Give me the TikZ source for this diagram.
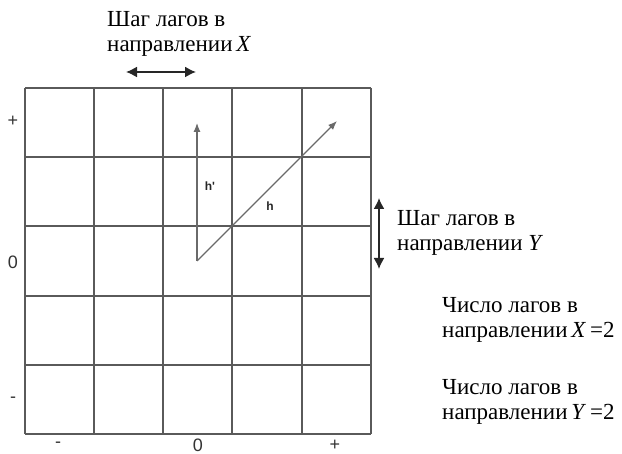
\documentclass[tikz,border=0pt]{standalone}
\usepackage{fontspec}
\setmainfont{Liberation Serif}
\newfontfamily\axisfont{Liberation Sans}
\usepackage{tikz}
\usetikzlibrary{arrows.meta,positioning}
\definecolor{gridgray}{HTML}{5A5A5A}
\definecolor{vecgray}{HTML}{6A6A6A}

\begin{document}
\begin{tikzpicture}[
  x=1pt, y=-1pt,
  gridline/.style={draw=gridgray, line width=1.4pt},
  vec/.style={-{Latex[length=9pt,width=7pt]}, draw=vecgray, line width=1.2pt},
  steparrow/.style={{Latex[length=11pt,width=11pt]}-{Latex[length=11pt,width=11pt]}, line width=1.6pt, draw=black!85},
  caption/.style={font=\fontsize{23}{25}\selectfont, align=left, inner sep=0pt, anchor=base west},
  tick/.style={font=\axisfont\fontsize{18}{18}\selectfont, text=black!80, inner sep=0pt},
  veclabel/.style={font=\axisfont\bfseries\fontsize{12}{12}\selectfont, text=black!85, inner sep=0pt}
]
\useasboundingbox (0,0) rectangle (622,454);

% Grid
\foreach \gx in {25,94,163,232,302,371}
  \draw[gridline] (\gx,88) -- (\gx,434);
\foreach \gy in {88,157,226,296,365,434}
  \draw[gridline] (25,\gy) -- (371,\gy);

% Tick labels
\node[tick] (yplus) at (13,121) {+};
\node[tick] (yzero) at (13,262) {0};
\node[tick] (yminus) at (13,400) {-};
\node[tick] (xminus) at (58,445) {-};
\node[tick] (xzero) at (198,445) {0};
\node[tick] (xplus) at (335,445) {+};

% Lag vectors
\coordinate (orig) at (197,261);
\coordinate (hptip) at (197,123);
\coordinate (htip) at (337,121);
\draw[vec] (orig) -- (hptip);
\draw[vec] (orig) -- (htip);
\node[veclabel] (hplabel) at (210,186) {h'};
\node[veclabel] (hlabel) at (270,206) {h};

% Lag step in X (anchor = baseline of last line)
\node[caption] (xstep) at (107,52) {Шаг лагов в\\направлении\,\textit{X}};
\coordinate (xa) at (126,72);
\coordinate (xb) at (196,72);
\draw[steparrow] (xa) -- (xb);

% Lag step in Y
\node[caption] (ystep) at (397,251) {Шаг лагов в\\направлении \textit{Y}};
\coordinate (ya) at (379,198);
\coordinate (yb) at (379,269);
\draw[steparrow] (ya) -- (yb);

% Number of lags
\node[caption] (xcount) at (442,338) {Число лагов в\\направлении\,\textit{X}\,=2};
\node[caption] (ycount) at (442,420) {Число лагов в\\направлении\,\textit{Y}\,=2};

\end{tikzpicture}
\end{document}
